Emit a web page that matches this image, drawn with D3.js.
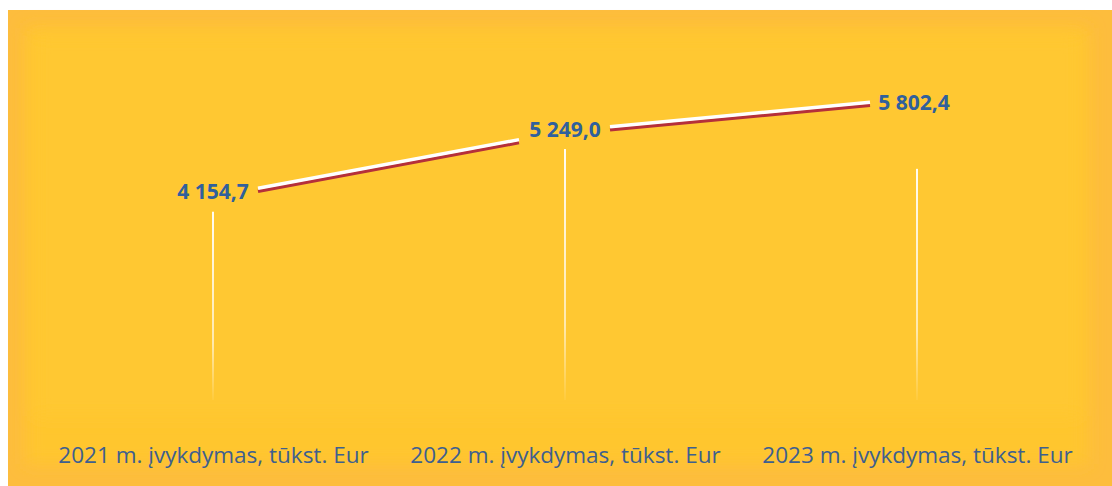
<!DOCTYPE html>
<meta charset="utf-8">
<head>
    <title>Įvykdymas</title>
</head>
<style>
    body { margin: 0; background: #fff; }
    .cat { font-family: "Open Sans", sans-serif; font-size: 22.5px; fill: #3e5f8f; }
    .val { font-family: "Open Sans", sans-serif; font-size: 21px; font-weight: bold; fill: #30609c; }
</style>
<div id="chart"></div>
<script src="https://d3js.org/d3.v7.min.js"></script>
<script>
    var categories = ["2021 m. įvykdymas, tūkst. Eur", "2022 m. įvykdymas, tūkst. Eur", "2023 m. įvykdymas, tūkst. Eur"];
    var values = [4154.7, 5249.0, 5802.4];
    var valueLabels = ["4 154,7", "5 249,0", "5 802,4"];

    var W = 1112, H = 486;
    var svg = d3.select("#chart").append("svg")
        .attr("width", W)
        .attr("height", H);

    var defs = svg.append("defs");
    defs.append("filter").attr("id", "soft")
        .attr("x", "-5%").attr("y", "-5%").attr("width", "110%").attr("height", "110%")
      .append("feGaussianBlur").attr("stdDeviation", 8);
    var fade = defs.append("linearGradient").attr("id", "fade")
        .attr("x1", 0).attr("y1", 0).attr("x2", 0).attr("y2", 1);
    fade.append("stop").attr("offset", "0%").attr("stop-color", "#fff").attr("stop-opacity", 0.95);
    fade.append("stop").attr("offset", "70%").attr("stop-color", "#fff").attr("stop-opacity", 0.6);
    fade.append("stop").attr("offset", "100%").attr("stop-color", "#fff").attr("stop-opacity", 0.05);

    // background frame
    svg.append("rect").attr("x", 8).attr("y", 10).attr("width", W - 8).attr("height", H - 10)
        .attr("fill", "#fdbd3d");
    svg.append("rect").attr("x", 26).attr("y", 28).attr("width", W - 50).attr("height", H - 50)
        .attr("fill", "#ffc62f").attr("filter", "url(#soft)");
    svg.append("rect").attr("x", 34).attr("y", 36).attr("width", W - 66).attr("height", 380)
        .attr("fill", "#ffc830").attr("filter", "url(#soft)");

    var x = d3.scalePoint()
        .domain(categories)
        .range([213, 917]);

    var y = d3.scaleLinear()
        .domain([0, 6000])
        .range([447, 87]);

    var g = svg.append("g");

    // drop lines
    var dropStart = [14, 17, 70];
    g.selectAll(".drop")
        .data(categories)
        .enter().append("rect")
        .attr("class", "drop")
        .attr("x", function(d) { return x(d) - 1; })
        .attr("y", function(d, i) { return y(values[i]) + dropStart[i]; })
        .attr("width", 2)
        .attr("height", function(d, i) { return 400 - y(values[i]) - dropStart[i]; })
        .attr("fill", "url(#fade)");

    var pts = categories.map(function(c, i) { return [x(c), y(values[i])]; });

    // line segments broken around the labels
    var gapL = [0, 46, 47], gapR = [45, 45, 0];
    var segs = [];
    for (var i = 0; i < pts.length - 1; i++) {
        var a = pts[i], b = pts[i + 1];
        var dx = b[0] - a[0], dy = b[1] - a[1];
        var t0 = gapR[i] / dx, t1 = 1 - gapL[i + 1] / dx;
        segs.push([[a[0] + dx * t0, a[1] + dy * t0], [a[0] + dx * t1, a[1] + dy * t1]]);
    }
    var line = d3.line();
    g.selectAll(".shadow").data(segs).enter().append("path")
        .attr("d", function(d) { return line(d.map(function(p) { return [p[0], p[1] + 2]; })); })
        .attr("stroke", "#b5303a").attr("stroke-width", 3.5).attr("fill", "none");
    g.selectAll(".seg").data(segs).enter().append("path")
        .attr("d", function(d) { return line(d.map(function(p) { return [p[0], p[1] - 1]; })); })
        .attr("stroke", "#ffffff").attr("stroke-width", 3.5).attr("fill", "none");

    // value labels
    var labelDx = [0, 0, -3], labelDy = [-6, -2, 4];
    g.selectAll(".val").data(categories).enter().append("text")
        .attr("class", "val")
        .attr("text-anchor", "middle")
        .attr("x", function(d, i) { return x(d) + labelDx[i]; })
        .attr("y", function(d, i) { return y(values[i]) + labelDy[i] + 7; })
        .text(function(d, i) { return valueLabels[i]; });

    // category axis
    var xAxis = d3.axisBottom(x).tickSize(0).tickPadding(0);
    var ax = svg.append("g").attr("transform", "translate(0,447)").call(xAxis);
    ax.select(".domain").remove();
    ax.selectAll("text").attr("class", "cat").attr("fill", null).attr("dy", "0.71em");
</script>
